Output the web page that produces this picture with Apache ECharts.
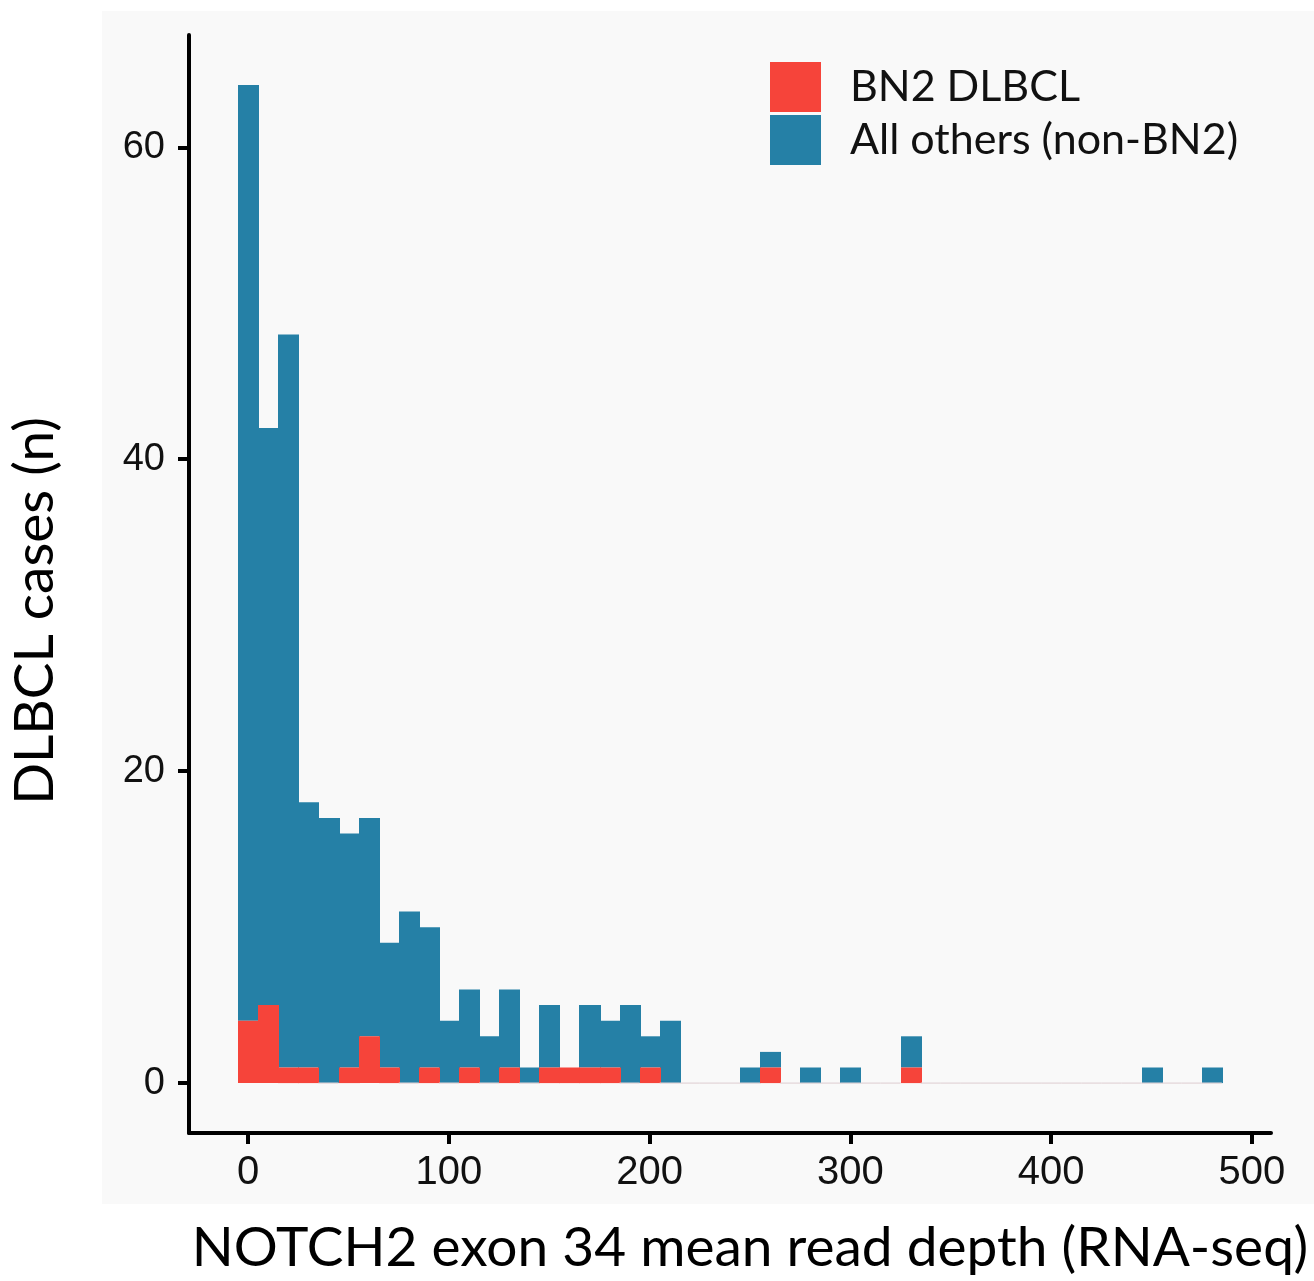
<!DOCTYPE html>
<html>
<head>
<meta charset="utf-8">
<script src="https://cdn.jsdelivr.net/npm/echarts@6/dist/echarts.min.js"></script>
<style>
  html, body { margin: 0; padding: 0; background: #ffffff; }
  #chart { width: 1314px; height: 1281px; }
</style>
</head>
<body>
<div id="chart"></div>
<script>
// histogram bins (width 10), bin centres
const binCenters = [0, 10, 20, 30, 40, 50, 60, 70, 80, 90,
  100, 110, 120, 130, 140, 150, 160, 170, 180, 190,
  200, 210, 220, 230, 240, 250, 260, 270, 280, 290,
  300, 310, 320, 330, 340, 350, 360, 370, 380, 390,
  400, 410, 420, 430, 440, 450, 460, 470, 480];
const binWidth = 10;
// BN2 DLBCL counts per bin
const bn2Counts = [4, 5, 1, 1, 0, 1, 3, 1, 0, 1,
  0, 1, 0, 1, 0, 1, 1, 1, 1, 0,
  1, 0, 0, 0, 0, 0, 1, 0, 0, 0,
  0, 0, 0, 1, 0, 0, 0, 0, 0, 0,
  0, 0, 0, 0, 0, 0, 0, 0, 0];
// all others (non-BN2) counts per bin, stacked on top of BN2
const otherCounts = [60, 37, 47, 17, 17, 15, 14, 8, 11, 9,
  4, 5, 3, 5, 1, 4, 0, 4, 3, 5,
  2, 4, 0, 0, 0, 1, 1, 0, 1, 0,
  1, 0, 0, 2, 0, 0, 0, 0, 0, 0,
  0, 0, 0, 0, 0, 1, 0, 0, 1];
const xTicks = [0, 100, 200, 300, 400, 500];
const yTicks = [0, 20, 40, 60];

const seriesNames = ['BN2 DLBCL', 'All others (non-BN2)'];
const colors = ['#f6443a', '#2580a6'];

// [centre, base, top]
const bn2Data = binCenters.map((c, i) => [c, 0, bn2Counts[i]]);
const otherData = binCenters.map((c, i) => [c, bn2Counts[i], bn2Counts[i] + otherCounts[i]]);

function renderBar(params, api) {
  const c = api.value(0);
  const base = api.value(1);
  const top = api.value(2);
  const p0 = api.coord([c - binWidth / 2, base]);
  const p1 = api.coord([c + binWidth / 2, top]);
  if (top === base) {
    if (params.seriesIndex !== 0 || top !== 0) return null;
    // zero-count bins leave a faint outline on the baseline
    return {
      type: 'line',
      shape: { x1: p0[0], y1: p0[1], x2: p1[0], y2: p0[1] },
      style: { stroke: '#e2d4d7', lineWidth: 1.2 }
    };
  }
  const x0 = Math.round(p0[0]);
  const x1 = Math.round(p1[0]);
  return {
    type: 'rect',
    shape: { x: x0, y: p1[1], width: x1 - x0 + 1, height: p0[1] - p1[1] },
    style: { fill: api.visual('color') }
  };
}

const chart = echarts.init(document.getElementById('chart'));
chart.setOption({
  animation: false,
  backgroundColor: '#ffffff',
  graphic: [{
    type: 'rect',
    z: -10,
    silent: true,
    shape: { x: 102, y: 11, width: 1212, height: 1193 },
    style: { fill: '#f9f9f9' }
  }],
  grid: { left: 188, right: 43, top: 35, bottom: 146 },
  legend: {
    orient: 'vertical',
    left: 765,
    top: 57,
    itemWidth: 51,
    itemHeight: 50,
    itemGap: 3,
    icon: 'rect',
    data: seriesNames,
    textStyle: { fontFamily: 'Lato', fontSize: 43, color: '#111', padding: [4, 0, 0, 24] }
  },
  xAxis: {
    type: 'value',
    min: -29.5,
    max: 509.5,
    name: 'NOTCH2 exon 34 mean read depth (RNA-seq)',
    nameLocation: 'middle',
    nameGap: 88,
    nameTextStyle: { fontFamily: 'Lato', fontSize: 55, color: '#000', padding: [0, 0, 0, 40] },
    splitLine: { show: false },
    axisLine: { onZero: false, lineStyle: { color: '#000', width: 4 } },
    axisTick: { length: 11, lineStyle: { color: '#000', width: 4 }, customValues: xTicks },
    axisLabel: { customValues: xTicks, margin: 20, fontFamily: 'Liberation Sans', fontSize: 40, color: '#111' }
  },
  yAxis: {
    type: 'value',
    min: -3.2,
    max: 67.2,
    name: 'DLBCL cases (n)',
    nameLocation: 'middle',
    nameGap: 126,
    nameTextStyle: { fontFamily: 'Lato', fontSize: 55, color: '#000', padding: [0, 54, 0, 0] },
    splitLine: { show: false },
    axisLine: { show: true, onZero: false, lineStyle: { color: '#000', width: 4 } },
    axisTick: { show: true, length: 11, lineStyle: { color: '#000', width: 4 }, customValues: yTicks },
    axisLabel: { customValues: yTicks, margin: 24, fontFamily: 'Liberation Sans', fontSize: 38, color: '#111' }
  },
  series: [
    {
      name: seriesNames[0],
      type: 'custom',
      renderItem: renderBar,
      itemStyle: { color: colors[0] },
      encode: { x: [0], y: [1, 2] },
      data: bn2Data,
      z: 3
    },
    {
      name: seriesNames[1],
      type: 'custom',
      renderItem: renderBar,
      itemStyle: { color: colors[1] },
      encode: { x: [0], y: [1, 2] },
      data: otherData,
      z: 2
    }
  ]
});
</script>
</body>
</html>
